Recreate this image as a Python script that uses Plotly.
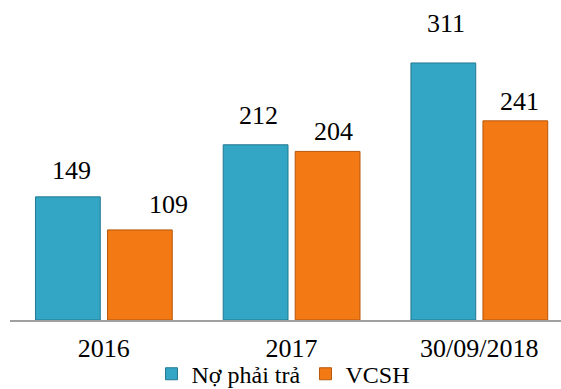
import plotly.graph_objects as go

categories = ["2016", "2017", "30/09/2018"]
no_phai_tra = [149, 212, 311]
vcsh = [109, 204, 241]
series_names = ["Nợ phải trả", "VCSH"]

# style / placement of value labels (pixel offsets relative to bar top/centre)
bar_offset_px = [-36, 36]
label_dx = [[3.5, 2.5, 2.5], [29, 6, 4.5]]
label_dy = [[26, 29, 39], [25, 20, 19]]

colors = ["#33A6C5", "#F27914"]
line_colors = ["#23788F", "#B5580C"]
FONT = "Liberation Serif"

fig = go.Figure()
for i, (name, vals) in enumerate(zip(series_names, [no_phai_tra, vcsh])):
    fig.add_trace(go.Bar(
        x=categories, y=vals, name=name,
        marker=dict(color=colors[i], line=dict(color=line_colors[i], width=1)),
    ))
    for j, v in enumerate(vals):
        fig.add_annotation(
            x=j, y=v, text=str(v), showarrow=False,
            xanchor="center", yanchor="middle",
            xshift=bar_offset_px[i] + label_dx[i][j], yshift=label_dy[i][j],
            font=dict(family=FONT, size=26, color="black"),
        )

fig.update_layout(
    width=561, height=389,
    margin=dict(l=10, r=0, t=0, b=69, autoexpand=False),
    paper_bgcolor="white", plot_bgcolor="white",
    barmode="group", bargap=0.233, bargroupgap=0.10,
    font=dict(family=FONT, size=26, color="black"),
    showlegend=True,
    legend=dict(orientation="h", xref="container", yref="container",
                x=0.27, xanchor="left", y=0.096, yanchor="top",
                font=dict(family=FONT, size=24, color="black"),
                bgcolor="rgba(0,0,0,0)", itemclick=False),
)
fig.update_xaxes(type="category", range=[-0.5, 2.435], showline=True,
                 linecolor="#A0A0A0", linewidth=1.5, ticks="", showgrid=False,
                 ticklabelstandoff=4,
                 tickfont=dict(family=FONT, size=26, color="black"))
fig.update_yaxes(range=[0, 387.2], visible=False, showgrid=False)

fig.write_html("out.html")
